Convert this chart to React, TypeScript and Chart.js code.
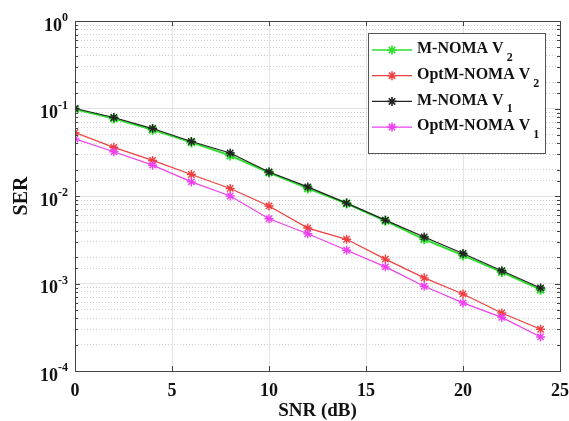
import React, { useEffect, useRef } from 'react';
import { Chart, registerables } from 'chart.js';

Chart.register(...registerables);

// ---- data ----
const snrDb = [0, 2, 4, 6, 8, 10, 12, 14, 16, 18, 20, 22, 24];
const mNomaV2 = [0.098, 0.077, 0.057, 0.041, 0.029, 0.0185, 0.0122, 0.0082, 0.0052, 0.0032, 0.0021, 0.00135, 0.00085];
const optMNomaV2 = [0.053, 0.036, 0.0255, 0.0176, 0.0122, 0.0077, 0.0043, 0.0032, 0.0019, 0.00116, 0.00076, 0.00046, 0.0003];
const mNomaV1 = [0.1, 0.079, 0.059, 0.042, 0.031, 0.0188, 0.0127, 0.0083, 0.0053, 0.0034, 0.0022, 0.0014, 0.00089];
const optMNomaV1 = [0.045, 0.032, 0.0225, 0.0145, 0.01, 0.0055, 0.0037, 0.0024, 0.00155, 0.00093, 0.0006, 0.00041, 0.000245];

const legendNames = ['M-NOMA V', 'OptM-NOMA V', 'M-NOMA V', 'OptM-NOMA V'];
const legendSubs = ['2', '2', '1', '1'];
const seriesColors = ['#2fe02f', '#ee4040', '#222222', '#ee40ee'];

const xTickValues = [0, 5, 10, 15, 20, 25];
const yDecadeExps = [0, -1, -2, -3, -4];
const xTitle = 'SNR (dB)';
const yTitle = 'SER';

const FONT = '"Liberation Serif", "Times New Roman", serif';

const isMajor = (v: number) => Math.abs(Math.log10(v) - Math.round(Math.log10(v))) < 1e-6;

function drawStar(ctx: CanvasRenderingContext2D, x: number, y: number, r: number, color: string, lw: number) {
  ctx.save();
  ctx.strokeStyle = color;
  ctx.lineWidth = lw;
  ctx.beginPath();
  ctx.moveTo(x - r, y); ctx.lineTo(x + r, y);
  ctx.moveTo(x, y - r); ctx.lineTo(x, y + r);
  const d = r * 0.7071;
  ctx.moveTo(x - d, y - d); ctx.lineTo(x + d, y + d);
  ctx.moveTo(x - d, y + d); ctx.lineTo(x + d, y - d);
  ctx.stroke();
  ctx.restore();
}

const overlayPlugin = {
  id: 'overlay',
  afterDatasetsDraw(chart: any) {
    const ctx: CanvasRenderingContext2D = chart.ctx;
    const ca = chart.chartArea;
    const xs = chart.scales.x;
    const ys = chart.scales.y;
    ctx.save();
    // frame
    ctx.strokeStyle = '#444';
    ctx.lineWidth = 1;
    ctx.strokeRect(Math.round(ca.left) + 0.5, Math.round(ca.top) + 0.5, Math.round(ca.right - ca.left), Math.round(ca.bottom - ca.top));
    // inward ticks
    ctx.beginPath();
    xTickValues.forEach((v) => {
      const px = Math.round(xs.getPixelForValue(v)) + 0.5;
      ctx.moveTo(px, ca.bottom); ctx.lineTo(px, ca.bottom - 5);
      ctx.moveTo(px, ca.top); ctx.lineTo(px, ca.top + 5);
    });
    ys.ticks.forEach((t: any) => {
      const py = Math.round(ys.getPixelForValue(t.value)) + 0.5;
      const len = isMajor(t.value) ? 5 : 3;
      ctx.moveTo(ca.left, py); ctx.lineTo(ca.left + len, py);
      ctx.moveTo(ca.right, py); ctx.lineTo(ca.right - len, py);
    });
    ctx.stroke();
    // y tick labels 10^k
    ctx.fillStyle = '#111';
    yDecadeExps.forEach((k) => {
      const py = ys.getPixelForValue(Math.pow(10, k));
      const sup = String(k);
      ctx.font = `bold 18px ${FONT}`;
      const w10 = ctx.measureText('10').width;
      ctx.font = `bold 12px ${FONT}`;
      const ws = ctx.measureText(sup).width;
      const right = ca.left - 7;
      ctx.textBaseline = 'middle';
      ctx.textAlign = 'left';
      ctx.font = `bold 18px ${FONT}`;
      ctx.fillText('10', right - ws - w10, py + 5);
      ctx.font = `bold 12px ${FONT}`;
      ctx.fillText(sup, right - ws, py - 3);
    });
    ctx.restore();
  },
  afterDraw(chart: any) {
    const ctx: CanvasRenderingContext2D = chart.ctx;
    const ca = chart.chartArea;
    const bw = 177, bh = 120;
    const bx = Math.round(ca.right - 192), by = Math.round(ca.top + 12);
    ctx.save();
    ctx.fillStyle = '#ffffff';
    ctx.fillRect(bx, by, bw, bh);
    ctx.strokeStyle = '#555';
    ctx.lineWidth = 1;
    ctx.strokeRect(bx + 0.5, by + 0.5, bw, bh);
    legendNames.forEach((name, i) => {
      const ey = by + 17 + i * 25.7;
      const c = seriesColors[i];
      ctx.strokeStyle = c;
      ctx.lineWidth = 1.3;
      ctx.beginPath();
      ctx.moveTo(bx + 4, ey); ctx.lineTo(bx + 44, ey);
      ctx.stroke();
      drawStar(ctx, bx + 24, ey, 4.5, c, 1.6);
      ctx.fillStyle = '#111';
      ctx.textAlign = 'left';
      ctx.textBaseline = 'middle';
      ctx.font = `bold 16px ${FONT}`;
      ctx.fillText(name, bx + 49, ey - 1);
      const w = ctx.measureText(name).width;
      ctx.font = `bold 12px ${FONT}`;
      ctx.fillText(legendSubs[i], bx + 49 + w + 3, ey + 8);
    });
    ctx.restore();
  },
};

export default function App() {
  const canvasRef = useRef<HTMLCanvasElement | null>(null);

  useEffect(() => {
    if (!canvasRef.current) return;
    const series = [mNomaV2, optMNomaV2, mNomaV1, optMNomaV1];
    const orders = [3, 2, 0, 1];
    const datasets = series.map((arr, i) => ({
      label: legendNames[i] + legendSubs[i],
      data: snrDb.map((x, j) => ({ x, y: arr[j] })),
      borderColor: seriesColors[i],
      backgroundColor: seriesColors[i],
      borderWidth: i === 0 ? 2 : 1.2,
      pointStyle: 'star' as const,
      pointRadius: i === 0 ? 5 : 4.5,
      pointBorderWidth: i === 0 ? 2 : 1.4,
      pointBorderColor: seriesColors[i],
      tension: 0,
      order: orders[i],
    }));

    const chart = new Chart(canvasRef.current, {
      type: 'line',
      data: { datasets },
      plugins: [overlayPlugin],
      options: {
        responsive: false,
        animation: false,
        layout: { padding: { top: 21, right: 9, left: 0, bottom: 0 } },
        plugins: {
          legend: { display: false },
          tooltip: { enabled: false },
        },
        scales: {
          x: {
            type: 'linear',
            min: 0,
            max: 25,
            afterFit: (s: any) => { s.height = 50; s.paddingLeft = 0; s.paddingRight = 0; },
            ticks: {
              stepSize: 5,
              padding: 10,
              color: '#111',
              font: { family: FONT, size: 18, weight: 'bold' },
            },
            grid: { color: '#e4e4e4', lineWidth: 1, drawTicks: false },
            border: { display: false },
            title: {
              display: true,
              text: xTitle,
              color: '#111',
              font: { family: FONT, size: 19, weight: 'bold', lineHeight: 1 },
              padding: { top: 0, bottom: 0 },
            },
          },
          y: {
            type: 'logarithmic',
            min: 1e-4,
            max: 1,
            afterFit: (s: any) => { s.width = 75; s.paddingTop = 0; s.paddingBottom = 0; },
            ticks: { display: false, autoSkip: false },
            grid: {
              drawTicks: false,
              lineWidth: 1,
              color: (c: any) => (c.tick && isMajor(c.tick.value) ? '#e2e2e2' : '#cfcfcf'),
            },
            border: {
              display: false,
              dash: (c: any) => (c.tick && isMajor(c.tick.value) ? [] : [1, 2]),
            },
            title: {
              display: true,
              text: yTitle,
              color: '#111',
              font: { family: FONT, size: 20, weight: 'bold' },
              padding: { top: 10, bottom: 0 },
            },
          },
        },
      } as any,
    });
    return () => chart.destroy();
  }, []);

  return (
    <div style={{ position: 'absolute', left: 0, top: 0, width: 569, height: 421, background: '#fff' }}>
      <canvas ref={canvasRef} width={569} height={421} style={{ display: 'block' }} />
    </div>
  );
}
